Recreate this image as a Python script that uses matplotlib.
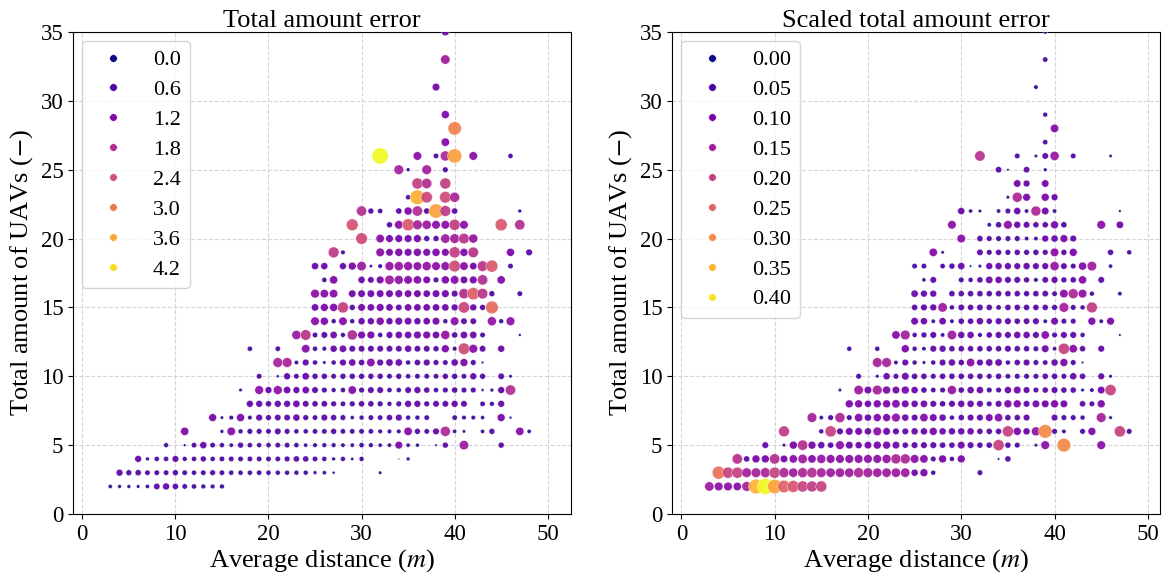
import matplotlib
matplotlib.use("Agg")
import matplotlib.pyplot as plt
from matplotlib.colors import Normalize
from matplotlib.lines import Line2D

plt.rcParams.update({
    "font.family": "serif",
    "font.serif": ["Liberation Serif", "DejaVu Serif"],
    "mathtext.fontset": "stix",
})

# Number of UAVs for each row of measurements
uav_rows = [2, 3, 4, 5, 6, 7, 8, 9, 10, 11, 12, 13, 14, 15, 16, 17, 18, 19, 20,
            21, 22, 23, 24, 25, 26, 27, 28, 29, 31, 33, 35]

# Average distances (m) observed in each row
dist_rows = [
    [3, 4, 5, 6, 7, 8, 9, 10, 11, 12, 13, 14, 15],
    [4, 5, 6, 7, 8, 9, 10, 11, 12, 13, 14, 15, 16, 17, 18, 19, 20, 21, 22, 23, 24, 25, 26, 27, 32],
    [6, 7, 8, 9, 10, 11, 12, 13, 14, 15, 16, 17, 18, 19, 20, 21, 22, 23, 24, 25, 26, 27, 28, 29, 30, 34, 35],
    [9, 11, 12, 13, 14, 15, 16, 17, 18, 19, 20, 21, 22, 23, 24, 25, 26, 27, 28, 29, 30, 31, 32, 33, 34, 35, 36, 38, 39, 41, 45],
    [11, 15, 16, 17, 18, 19, 20, 21, 22, 23, 24, 25, 26, 27, 28, 29, 30, 31, 32, 33, 34, 35, 36, 37, 38, 39, 40, 41, 43, 44, 47, 48],
    [14, 15, 16, 17, 18, 19, 20, 21, 22, 23, 24, 25, 26, 27, 28, 29, 30, 31, 32, 33, 34, 35, 36, 37, 40, 41, 42, 43, 45, 46],
    [18, 19, 20, 21, 22, 23, 24, 25, 26, 27, 28, 29, 30, 31, 32, 33, 34, 35, 36, 37, 38, 39, 40, 41, 43, 44, 45],
    [17, 19, 20, 21, 22, 23, 24, 25, 26, 27, 28, 29, 30, 31, 32, 33, 34, 35, 36, 37, 38, 39, 40, 41, 42, 43, 44, 45, 46],
    [19, 21, 22, 23, 24, 25, 26, 27, 28, 29, 30, 31, 32, 33, 34, 35, 36, 37, 38, 39, 40, 41, 42, 43, 45, 46],
    [21, 22, 23, 24, 25, 26, 27, 28, 29, 30, 31, 32, 33, 34, 35, 36, 37, 38, 39, 40, 41, 42, 43],
    [18, 21, 24, 25, 26, 27, 28, 29, 30, 31, 32, 33, 34, 35, 36, 37, 38, 39, 40, 41, 42, 43, 45],
    [23, 24, 25, 26, 27, 28, 29, 30, 31, 32, 33, 34, 35, 36, 37, 38, 39, 40, 41, 42, 43, 47],
    [25, 26, 27, 28, 29, 30, 31, 32, 33, 34, 35, 36, 37, 38, 39, 40, 41, 42, 44, 45, 46],
    [25, 26, 27, 28, 29, 30, 31, 32, 33, 34, 35, 36, 37, 38, 39, 40, 41, 42, 43, 44],
    [25, 26, 27, 29, 30, 31, 32, 33, 34, 35, 36, 37, 38, 39, 40, 41, 42, 43, 44, 47],
    [26, 27, 30, 31, 32, 33, 34, 35, 36, 37, 38, 39, 40, 41, 42, 43, 45],
    [25, 26, 28, 29, 30, 31, 32, 33, 34, 35, 36, 37, 38, 39, 40, 41, 42, 43, 44, 46],
    [27, 28, 32, 33, 34, 35, 36, 37, 38, 39, 40, 41, 42, 46, 48],
    [30, 32, 33, 34, 35, 36, 37, 38, 39, 40, 41, 42],
    [29, 33, 34, 35, 36, 37, 38, 39, 40, 41, 45, 47],
    [30, 31, 32, 34, 35, 36, 37, 38, 39, 40, 47],
    [35, 36, 37, 39, 40],
    [36, 37, 39],
    [34, 35, 37, 39],
    [32, 36, 38, 39, 40, 42, 46],
    [39],
    [40],
    [39],
    [38],
    [39],
    [39],
]

# Total amount error per measurement
total_rows = [
    [0.3, 0.25, 0.25, 0.22, 0.3, 0.7, 0.84, 0.66, 0.5, 0.46, 0.4, 0.38, 0.4],
    [0.8, 0.6, 0.65, 0.5, 0.5, 0.5, 0.6, 0.5, 0.45, 0.5, 0.55, 0.5, 0.45, 0.45, 0.45, 0.48, 0.45, 0.42, 0.42, 0.42, 0.42, 0.25, 0.3, 0.15, 0.2],
    [0.8, 0.25, 0.45, 0.45, 0.75, 0.4, 0.45, 0.6, 0.45, 0.5, 0.5, 0.5, 0.5, 0.5, 0.5, 0.5, 0.55, 0.64, 0.64, 0.5, 0.45, 0.25, 0.42, 0.18, 0.42, 0.05, 0.25],
    [0.4, 0.12, 0.5, 0.85, 0.5, 0.42, 0.32, 0.6, 0.45, 0.42, 0.45, 0.5, 0.5, 0.45, 0.3, 0.35, 0.38, 0.38, 0.32, 0.32, 0.45, 0.38, 0.3, 0.32, 1.0, 0.3, 0.27, 0.1, 0.6, 1.5, 0.6],
    [1.15, 0.25, 1.2, 0.42, 0.55, 0.55, 0.5, 0.72, 0.55, 0.45, 0.45, 0.5, 0.5, 0.6, 0.5, 0.5, 0.5, 0.48, 0.36, 0.36, 0.36, 1.2, 0.6, 0.5, 0.75, 1.75, 0.3, 0.2, 0.3, 0.6, 1.15, 0.3],
    [1.05, 0.2, 0.35, 1.1, 0.35, 0.77, 0.56, 0.7, 0.7, 0.84, 0.56, 0.5, 0.75, 0.63, 0.56, 0.28, 0.42, 0.5, 0.49, 0.63, 0.77, 0.42, 0.42, 0.49, 0.49, 0.35, 0.35, 0.28, 1.05, 0.14],
    [0.8, 0.8, 0.64, 0.8, 0.8, 0.88, 0.72, 0.64, 0.68, 0.56, 0.5, 0.56, 0.64, 0.64, 0.56, 0.4, 0.56, 0.8, 0.8, 0.56, 0.72, 0.72, 0.8, 0.72, 0.48, 0.4, 0.8],
    [0.2, 1.3, 0.8, 1.35, 0.9, 0.8, 0.9, 0.72, 0.55, 0.4, 0.45, 1.2, 0.55, 0.72, 0.72, 0.45, 0.45, 0.72, 0.8, 0.63, 0.45, 0.55, 0.63, 0.55, 0.55, 0.15, 0.25, 0.8, 1.8],
    [0.5, 0.15, 0.8, 0.5, 0.9, 0.6, 0.6, 0.5, 0.6, 0.6, 0.6, 0.6, 0.6, 0.5, 0.6, 0.45, 0.5, 0.5, 0.5, 0.6, 0.6, 0.5, 0.8, 0.6, 0.7, 0.2],
    [1.65, 1.65, 0.33, 0.77, 0.44, 0.2, 0.44, 0.77, 0.88, 0.66, 1.2, 0.77, 0.9, 0.9, 0.44, 0.66, 0.77, 0.55, 0.5, 0.88, 1.05, 0.55, 0.12],
    [0.45, 0.48, 1.2, 0.45, 0.36, 0.84, 0.9, 0.72, 0.72, 0.72, 0.72, 0.72, 0.7, 0.84, 0.72, 0.72, 0.6, 1.05, 0.36, 2.3, 1.3, 0.72, 0.84],
    [1.45, 1.9, 0.5, 0.72, 0.9, 0.4, 1.75, 1.0, 1.0, 0.45, 0.78, 0.9, 0.9, 1.0, 1.0, 0.9, 1.4, 0.65, 0.9, 0.9, 0.5, 0.13],
    [1.25, 1.1, 0.42, 1.2, 0.42, 0.84, 0.84, 1.1, 0.84, 1.0, 0.95, 0.84, 0.9, 0.98, 0.42, 1.25, 0.7, 0.7, 1.4, 0.4, 1.3],
    [0.9, 1.05, 1.1, 2.1, 0.6, 0.95, 0.9, 1.0, 0.9, 0.7, 0.9, 0.9, 0.9, 0.9, 0.9, 0.8, 2.2, 0.8, 0.6, 2.8],
    [1.3, 1.2, 1.2, 0.95, 0.95, 0.95, 0.95, 0.95, 1.0, 0.95, 0.95, 0.9, 0.95, 1.0, 0.75, 1.8, 2.6, 1.9, 0.6, 0.5],
    [0.45, 1.15, 0.85, 0.7, 1.0, 1.5, 1.35, 1.2, 1.15, 0.95, 0.55, 1.1, 1.25, 0.95, 1.0, 1.8, 1.15],
    [0.85, 0.85, 0.8, 1.05, 1.5, 0.18, 0.35, 1.35, 1.4, 1.35, 1.25, 1.4, 1.25, 1.3, 2.3, 1.2, 0.9, 1.9, 2.5, 0.5],
    [2.0, 0.35, 1.25, 0.95, 1.1, 1.0, 1.1, 1.0, 1.1, 1.0, 2.1, 1.1, 1.9, 1.1, 0.75],
    [2.3, 1.2, 1.0, 1.0, 1.0, 1.05, 0.6, 0.6, 1.5, 1.6, 1.9, 1.4],
    [2.4, 0.6, 1.25, 2.5, 1.6, 1.45, 1.25, 1.25, 2.1, 1.25, 2.5, 1.8],
    [1.8, 0.6, 0.45, 0.65, 1.1, 1.8, 0.65, 3.5, 2.0, 0.65, 0.25],
    [0.45, 3.7, 2.2, 2.3, 1.7],
    [2.1, 1.8, 2.1],
    [1.6, 0.25, 1.6, 0.55],
    [4.5, 1.25, 0.5, 1.75, 3.5, 1.25, 0.45],
    [1.2],
    [3.1],
    [1.1],
    [1.0],
    [1.5],
    [1.0],
]

# Total amount error scaled by the number of UAVs
scaled_rows = [
    [0.14, 0.12, 0.12, 0.11, 0.15, 0.35, 0.42, 0.33, 0.25, 0.23, 0.2, 0.19, 0.2],
    [0.27, 0.2, 0.2, 0.15, 0.15, 0.16, 0.2, 0.16, 0.14, 0.16, 0.17, 0.15, 0.14, 0.14, 0.14, 0.16, 0.15, 0.14, 0.14, 0.14, 0.14, 0.08, 0.1, 0.04, 0.05],
    [0.17, 0.06, 0.1, 0.1, 0.17, 0.09, 0.11, 0.14, 0.11, 0.13, 0.12, 0.12, 0.12, 0.12, 0.12, 0.12, 0.13, 0.16, 0.16, 0.12, 0.11, 0.05, 0.1, 0.04, 0.1, 0.01, 0.06],
    [0.07, 0.02, 0.1, 0.17, 0.1, 0.08, 0.06, 0.12, 0.09, 0.08, 0.09, 0.1, 0.1, 0.09, 0.06, 0.07, 0.07, 0.07, 0.06, 0.06, 0.09, 0.07, 0.06, 0.06, 0.2, 0.06, 0.05, 0.02, 0.12, 0.3, 0.12],
    [0.19, 0.04, 0.2, 0.07, 0.09, 0.09, 0.08, 0.12, 0.09, 0.07, 0.07, 0.08, 0.08, 0.1, 0.08, 0.08, 0.08, 0.08, 0.06, 0.06, 0.06, 0.2, 0.1, 0.08, 0.13, 0.3, 0.05, 0.03, 0.05, 0.1, 0.2, 0.05],
    [0.15, 0.03, 0.05, 0.16, 0.05, 0.11, 0.08, 0.1, 0.1, 0.12, 0.08, 0.07, 0.11, 0.09, 0.08, 0.04, 0.06, 0.07, 0.07, 0.09, 0.11, 0.06, 0.06, 0.07, 0.07, 0.05, 0.05, 0.04, 0.15, 0.02],
    [0.1, 0.1, 0.08, 0.1, 0.1, 0.11, 0.09, 0.08, 0.085, 0.07, 0.06, 0.07, 0.08, 0.08, 0.07, 0.05, 0.07, 0.1, 0.1, 0.07, 0.09, 0.09, 0.1, 0.09, 0.06, 0.05, 0.1],
    [0.02, 0.14, 0.09, 0.15, 0.1, 0.09, 0.1, 0.08, 0.06, 0.045, 0.05, 0.13, 0.06, 0.08, 0.08, 0.05, 0.05, 0.08, 0.09, 0.07, 0.05, 0.06, 0.07, 0.06, 0.06, 0.02, 0.03, 0.09, 0.2],
    [0.05, 0.02, 0.08, 0.05, 0.09, 0.06, 0.06, 0.05, 0.06, 0.06, 0.06, 0.06, 0.06, 0.05, 0.06, 0.045, 0.05, 0.05, 0.05, 0.06, 0.06, 0.05, 0.08, 0.06, 0.07, 0.02],
    [0.15, 0.15, 0.03, 0.07, 0.04, 0.02, 0.04, 0.07, 0.08, 0.06, 0.11, 0.07, 0.085, 0.085, 0.04, 0.06, 0.07, 0.05, 0.045, 0.08, 0.1, 0.05, 0.01],
    [0.04, 0.04, 0.1, 0.04, 0.03, 0.07, 0.075, 0.06, 0.06, 0.06, 0.06, 0.06, 0.06, 0.07, 0.06, 0.06, 0.05, 0.09, 0.03, 0.2, 0.11, 0.06, 0.07],
    [0.11, 0.15, 0.04, 0.055, 0.07, 0.03, 0.14, 0.08, 0.08, 0.035, 0.06, 0.07, 0.07, 0.08, 0.08, 0.07, 0.11, 0.05, 0.07, 0.07, 0.04, 0.01],
    [0.09, 0.08, 0.03, 0.085, 0.03, 0.06, 0.06, 0.08, 0.06, 0.07, 0.07, 0.06, 0.065, 0.07, 0.03, 0.09, 0.05, 0.05, 0.1, 0.03, 0.095],
    [0.06, 0.07, 0.075, 0.14, 0.04, 0.065, 0.06, 0.065, 0.06, 0.045, 0.06, 0.06, 0.06, 0.06, 0.06, 0.055, 0.15, 0.05, 0.04, 0.19],
    [0.085, 0.075, 0.075, 0.06, 0.06, 0.06, 0.06, 0.06, 0.062, 0.06, 0.06, 0.056, 0.06, 0.065, 0.047, 0.115, 0.16, 0.12, 0.038, 0.03],
    [0.027, 0.068, 0.05, 0.04, 0.06, 0.088, 0.08, 0.07, 0.068, 0.056, 0.032, 0.065, 0.074, 0.056, 0.06, 0.106, 0.068],
    [0.047, 0.047, 0.044, 0.058, 0.083, 0.01, 0.02, 0.075, 0.078, 0.075, 0.07, 0.078, 0.07, 0.072, 0.133, 0.067, 0.05, 0.105, 0.145, 0.028],
    [0.11, 0.018, 0.066, 0.05, 0.058, 0.053, 0.058, 0.053, 0.058, 0.053, 0.115, 0.058, 0.1, 0.058, 0.04],
    [0.115, 0.06, 0.05, 0.05, 0.05, 0.052, 0.03, 0.03, 0.075, 0.08, 0.095, 0.07],
    [0.115, 0.03, 0.06, 0.12, 0.077, 0.069, 0.06, 0.06, 0.1, 0.06, 0.12, 0.086],
    [0.082, 0.027, 0.02, 0.03, 0.05, 0.082, 0.03, 0.16, 0.09, 0.03, 0.011],
    [0.02, 0.16, 0.095, 0.1, 0.074],
    [0.088, 0.075, 0.088],
    [0.064, 0.01, 0.064, 0.022],
    [0.173, 0.048, 0.019, 0.067, 0.135, 0.048, 0.017],
    [0.044],
    [0.11],
    [0.038],
    [0.032],
    [0.045],
    [0.028],
]

total_levels = [0.0, 0.6, 1.2, 1.8, 2.4, 3.0, 3.6, 4.2]
total_labels = ["0.0", "0.6", "1.2", "1.8", "2.4", "3.0", "3.6", "4.2"]
scaled_levels = [0.00, 0.05, 0.10, 0.15, 0.20, 0.25, 0.30, 0.35, 0.40]
scaled_labels = ["0.00", "0.05", "0.10", "0.15", "0.20", "0.25", "0.30", "0.35", "0.40"]


def flatten(rows):
    return [v for row in rows for v in row]


dist = flatten(dist_rows)
uavs = [y for y, row in zip(uav_rows, dist_rows) for _ in row]
total_err = flatten(total_rows)
scaled_err = flatten(scaled_rows)

cmap = plt.get_cmap("plasma")

fig = plt.figure(figsize=(11.73, 5.72), dpi=100)
ax_l = fig.add_axes([73 / 1173, 58 / 572, 498 / 1173, 482 / 572])
ax_r = fig.add_axes([672 / 1173, 58 / 572, 488 / 1173, 482 / 572])


def draw(ax, values, levels, labels, title, area_per_unit, xmax):
    vmax = max(values)
    norm = Normalize(vmin=0.0, vmax=vmax)
    sizes = [area_per_unit * v for v in values]
    ax.scatter(dist, uavs, s=sizes, c=values, cmap=cmap, norm=norm,
               edgecolors="white", linewidths=0.3, alpha=0.92, zorder=3)
    ax.set_xlim(-1, xmax)
    ax.set_ylim(0, 35)
    ax.set_xticks([0, 10, 20, 30, 40, 50])
    ax.set_yticks([0, 5, 10, 15, 20, 25, 30, 35])
    ax.tick_params(labelsize=16.5, direction="out", length=3.5, width=0.8)
    ax.grid(True, ls="--", color="#d5d5d5", lw=0.8, zorder=0)
    ax.set_axisbelow(True)
    ax.set_title(title, fontsize=19, pad=3)
    ax.set_xlabel("Average distance ($m$)", fontsize=19, labelpad=2)
    ax.set_ylabel("Total amount of UAVs ($-$)", fontsize=19, labelpad=4)
    handles = [Line2D([], [], ls="none", marker="o", markersize=5.4,
                      markerfacecolor=cmap(norm(v)), markeredgecolor="white",
                      markeredgewidth=0.3) for v in levels]
    ax.legend(handles, labels, loc="upper left", fontsize=16,
              borderaxespad=0.4, labelspacing=0.42)


draw(ax_l, total_err, total_levels, total_labels, "Total amount error", 30.0, 52.5)
draw(ax_r, scaled_err, scaled_levels, scaled_labels, "Scaled total amount error", 320.0, 51.3)

fig.savefig("out.png", dpi=100)
